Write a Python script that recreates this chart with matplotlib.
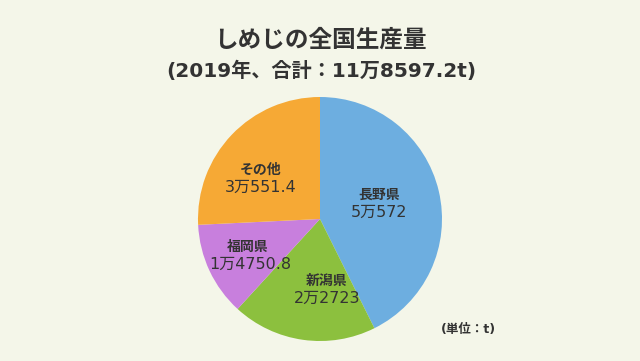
import matplotlib
matplotlib.use("Agg")
import matplotlib.pyplot as plt

plt.rcParams['font.family'] = ['DejaVu Sans', 'Noto Sans CJK JP']

# data (t, 2019)
regions = ['長野県', '新潟県', '福岡県', 'その他']
values = [50572, 22723, 14750.8, 30551.4]
value_labels = ['5万572', '2万2723', '1万4750.8', '3万551.4']
colors = ['#6DAEE0', '#8CC03E', '#C87FDD', '#F6A935']

bg = '#F4F6E9'
txt = '#333333'
cjk = ['Noto Sans CJK JP', 'DejaVu Sans']

fig = plt.figure(figsize=(6.4, 3.61), dpi=100, facecolor=bg)

fig.text(0.5, 1 - 40 / 361, 'しめじの全国生産量', ha='center', va='center',
         fontsize=17, fontweight='bold', color=txt, family=cjk)
fig.text(321 / 640, 1 - 71 / 361, '(2019年、合計：11万8597.2t)', ha='center', va='center',
         fontsize=14.5, fontweight='bold', color=txt)
fig.text(468 / 640, 1 - 330 / 361, '(単位：t)', ha='center', va='center',
         fontsize=9, fontweight='bold', color=txt)

# pie axes: centre (320, 219) px, radius ~122 px
r = 122
ax = fig.add_axes([(320 - r) / 640, (361 - 219 - r) / 361, 2 * r / 640, 2 * r / 361])
ax.pie(values, colors=colors, startangle=90, counterclock=False, radius=1,
       wedgeprops=dict(linewidth=0))
ax.set_xlim(-1, 1)
ax.set_ylim(-1, 1)
ax.set_aspect('auto')
ax.axis('off')

# (name x, name y, value x, value y) in pie radius units
label_pos = [(0.484, 0.197, 0.484, 0.057), (0.057, -0.508, 0.057, -0.648),
             (-0.59, -0.230, -0.574, -0.369), (-0.484, 0.40, -0.484, 0.262)]
for name, vl, (nx, ny, vx, vy) in zip(regions, value_labels, label_pos):
    ax.text(nx, ny, name, ha='center', va='center', fontsize=10,
            fontweight='bold', color=txt, family=cjk)
    ax.text(vx, vy, vl, ha='center', va='center', fontsize=11.5, color=txt)

fig.savefig('out.png', dpi=100, facecolor=bg)
